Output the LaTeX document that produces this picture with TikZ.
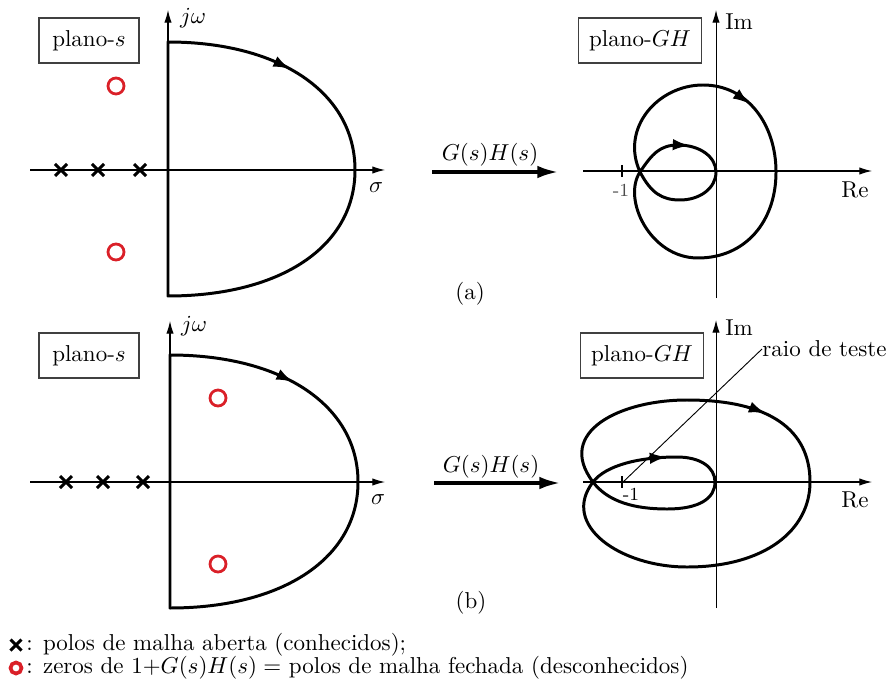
\documentclass[tikz,border=0pt]{standalone}
\usetikzlibrary{arrows.meta}
\definecolor{zred}{RGB}{218,32,40}
\begin{document}
\begin{tikzpicture}[x=0.435pt,y=-0.435pt,
  axis/.style={line width=0.45pt, -{Latex[length=5.5pt,width=3.2pt]}},
  contour/.style={line width=1.3pt, line join=round},
  tipmark/.style={line width=1.3pt, -{Latex[length=7.5pt,width=5pt]}},
  planebox/.style={draw=black!75, line width=0.5pt, minimum height=19.6pt, inner sep=0pt},
  zeromark/.style={draw=zred, line width=1.2pt},
  polemark/.style={line width=1.3pt},
  bigarrow/.style={line width=1.4pt, -{Latex[length=9pt,width=5.5pt]}},
  pole/.pic={\draw[polemark] (-6,-6) -- (6,6) (-6,6) -- (6,-6);},
]
\useasboundingbox (0,0) rectangle (888,686);

% ================= (a) s-plane =================
\draw[axis] (30,170) -- (385,170);
\draw[axis] (168,296) -- (168,10);
\node (jwa) at (193,18) {$j\omega$};
\node (siga) at (376,188) {$\sigma$};
\node[planebox, minimum width=43.5pt] (psa) at (89,40.5) {plano-$s$};
\draw[contour] (168,42) .. controls (280,42) and (355,93) .. (355,170)
   .. controls (355,247) and (280,296) .. (168,296) -- cycle;
\draw[tipmark] (281,64.5) -- (290.5,69.1);
\pic at (61,170) {pole};
\pic at (98,170) {pole};
\pic at (140,170) {pole};
\draw[zeromark] (116,86) circle[radius=8];
\draw[zeromark] (116,252) circle[radius=8];

% arrow (a)
\draw[bigarrow] (432,172) -- (558,172);
\node (gha) at (490,155) {$G(s)H(s)$};
\node (capa) at (470,294) {(a)};

% ================= (a) GH-plane =================
\draw[axis] (583,171) -- (872,171);
\draw[axis] (716,298) -- (716,10);
\node (ima) at (739,22) {Im};
\node (rea) at (855,190) {Re};
\node[planebox, minimum width=53.5pt] (pgha) at (640,40.5) {plano-$GH$};
\draw[line width=0.45pt] (622,165) -- (622,177);
\node[font=\footnotesize, text=black!70] (m1a) at (621,190) {-1};
\draw[contour] (640,172) .. controls (652,154) and (660,145) .. (678,145)
  .. controls (700,145) and (716,157) .. (716,172)
  .. controls (716,188) and (700,200) .. (680,200)
  .. controls (662,200) and (651,193) .. (640,172)
  .. controls (620,128) and (658,85) .. (703,85)
  .. controls (748,85) and (776,125) .. (776,172)
  .. controls (776,222) and (745,258) .. (698,258)
  .. controls (650,258) and (622,199) .. (640,172) -- cycle;
\draw[tipmark] (679,145) -- (690,145.6);
\draw[tipmark] (741,97.5) -- (750,104);

% ================= (b) s-plane =================
\draw[axis] (30,482) -- (385,482);
\draw[axis] (170,608) -- (170,321);
\node (jwb) at (194,326) {$j\omega$};
\node (sigb) at (378,500) {$\sigma$};
\node[planebox, minimum width=43.5pt] (psb) at (89,355.5) {plano-$s$};
\draw[contour] (170,355) .. controls (283,355) and (358,406) .. (358,482)
   .. controls (358,558) and (283,608) .. (170,608) -- cycle;
\draw[tipmark] (284,377.5) -- (293.5,382.1);
\pic at (66,482) {pole};
\pic at (103,482) {pole};
\pic at (143,482) {pole};
\draw[zeromark] (218,398) circle[radius=8];
\draw[zeromark] (218,564) circle[radius=8];

% arrow (b)
\draw[bigarrow] (434,483) -- (560,483);
\node (ghb) at (491,467) {$G(s)H(s)$};
\node (capb) at (471,603) {(b)};

% ================= (b) GH-plane =================
\draw[axis] (583,482) -- (872,482);
\draw[axis] (716,608) -- (716,320);
\node (imb) at (739,328) {Im};
\node (reb) at (855,500) {Re};
\node[planebox, minimum width=53.5pt] (pghb) at (642,355.5) {plano-$GH$};
\draw[line width=0.45pt] (622,476) -- (622,488);
\node[font=\footnotesize] (m1b) at (631,494) {-1};
\draw[contour] (593,482) .. controls (606,465) and (640,457) .. (677,457)
  .. controls (700,457) and (715,467) .. (715,482)
  .. controls (715,498) and (700,509) .. (667,509)
  .. controls (635,509) and (608,502) .. (593,482)
  .. controls (555,432) and (620,400) .. (687,400)
  .. controls (770,400) and (810,430) .. (810,482)
  .. controls (810,530) and (765,567) .. (687,567)
  .. controls (620,567) and (560,525) .. (593,482) -- cycle;
\draw[tipmark] (656,457.8) -- (667,457);
\draw[tipmark] (757,410) -- (766,413.5);
\coordinate (raytip) at (622,483);
\node[anchor=west, inner sep=0pt] (ray) at (762,349) {raio de teste};
\draw[line width=0.4pt] (raytip) -- (ray.west);

% ================= legend =================
\draw[polemark] (10.5,639.5) -- (21.5,650.5) (10.5,650.5) -- (21.5,639.5);
\draw[draw=zred, line width=1.6pt] (16,668) circle[radius=5.5];
\node[anchor=west, inner sep=0pt] (leg1) at (26,645) {: polos de malha aberta (conhecidos);};
\node[anchor=west, inner sep=0pt] (leg2) at (26,668) {: zeros de $1{+}G(s)H(s) =$ polos de malha fechada (desconhecidos)};
\end{tikzpicture}
\end{document}
